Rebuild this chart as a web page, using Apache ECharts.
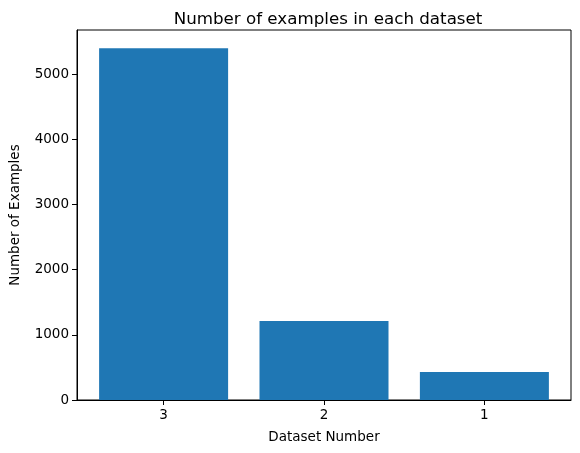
<!DOCTYPE html>
<html>
<head>
<meta charset="utf-8">
<script src="https://cdn.jsdelivr.net/npm/echarts@6/dist/echarts.min.js"></script>
<style>
html,body{margin:0;padding:0;background:#fff;}
#main{width:580px;height:453px;}
</style>
</head>
<body>
<div id="main"></div>
<script>
// 数据
var categories = ['3', '2', '1'];
var counts = [5400, 1212, 430];
var yTicks = [0, 1000, 2000, 3000, 4000, 5000];

var barData = [];
categories.forEach(function(c, i){
    barData.push([i, counts[i]]);
});

var myChart = echarts.init(document.getElementById('main'));
var font = 'DejaVu Sans';
var option = {
    animation: false,
    title: {
        text: 'Number of examples in each dataset',
        left: 323,
        textAlign: 'center',
        top: 6,
        textStyle: {fontFamily: font, fontSize: 16.7, fontWeight: 'normal', color: '#000'}
    },
    grid: {
        left: 75, right: 9, top: 30, bottom: 53,
        show: true, borderColor: '#000', borderWidth: 1
    },
    xAxis: {
        type: 'value',
        min: -0.54,
        max: 2.54,
        name: 'Dataset Number',
        nameLocation: 'middle',
        nameGap: 30,
        nameTextStyle: {fontFamily: font, fontSize: 13.5, color: '#000'},
        splitLine: {show: false},
        axisLine: {show: true, onZero: false, lineStyle: {color: '#000', width: 1}},
        axisTick: {show: true, length: 5, customValues: [0, 1, 2], lineStyle: {color: '#000'}},
        axisLabel: {
            customValues: [0, 1, 2],
            margin: 8,
            fontFamily: font, fontSize: 13.5, color: '#000',
            formatter: function(v){ return categories[Math.round(v)]; }
        }
    },
    yAxis: {
        type: 'value',
        min: 0,
        max: 5680,
        interval: 1000,
        name: 'Number of Examples',
        nameLocation: 'middle',
        nameGap: 55,
        nameTextStyle: {fontFamily: font, fontSize: 13.5, color: '#000'},
        splitLine: {show: false},
        axisLine: {show: true, onZero: false, lineStyle: {color: '#000', width: 1}},
        axisTick: {show: true, length: 5, customValues: yTicks, lineStyle: {color: '#000'}},
        axisLabel: {
            customValues: yTicks,
            margin: 8,
            fontFamily: font, fontSize: 13.5, color: '#000',
            formatter: function(v){ return String(v); }
        }
    },
    series: [{
        type: 'bar',
        data: barData,
        barWidth: 129,
        itemStyle: {color: '#1f77b4'}
    }]
};
myChart.setOption(option);
</script>
</body>
</html>
